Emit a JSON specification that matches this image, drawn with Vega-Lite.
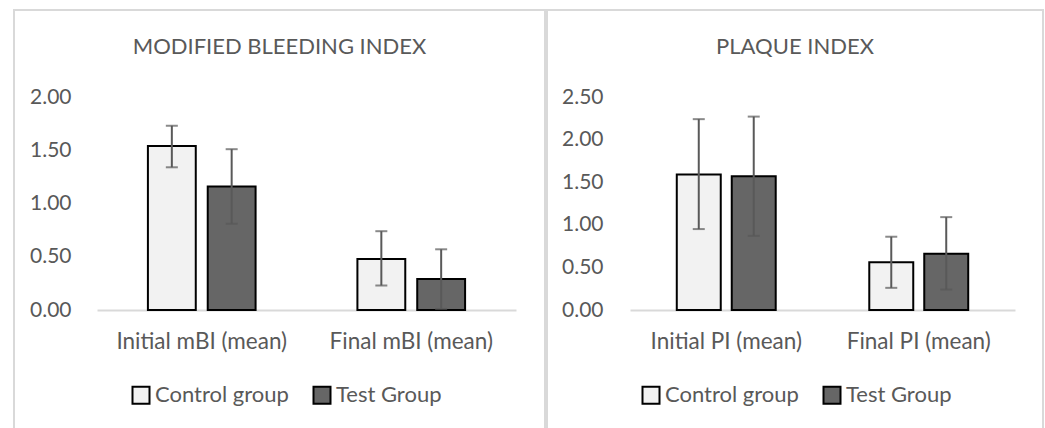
{
  "$schema": "https://vega.github.io/schema/vega-lite/v6.json",
  "padding": {"left": 13, "top": 9, "right": 0, "bottom": 0},
  "background": "white",
  "config": {
    "font": "Lato",
    "view": {"stroke": "#d9d9d9", "strokeWidth": 2},
    "concat": {"spacing": 0},
    "axis": {"labelColor": "#595959", "labelFont": "Lato", "grid": false, "ticks": false, "title": null}
  },
  "datasets": {
    "mbi": [
      {"category": "Initial mBI (mean)", "group": "Control group", "mean": 1.54, "lo": 1.34, "hi": 1.73},
      {"category": "Initial mBI (mean)", "group": "Test Group", "mean": 1.16, "lo": 0.81, "hi": 1.51},
      {"category": "Final mBI (mean)", "group": "Control group", "mean": 0.48, "lo": 0.23, "hi": 0.74},
      {"category": "Final mBI (mean)", "group": "Test Group", "mean": 0.29, "lo": 0.01, "hi": 0.57}
    ],
    "pi": [
      {"category": "Initial PI (mean)", "group": "Control group", "mean": 1.59, "lo": 0.95, "hi": 2.24},
      {"category": "Initial PI (mean)", "group": "Test Group", "mean": 1.57, "lo": 0.87, "hi": 2.27},
      {"category": "Final PI (mean)", "group": "Control group", "mean": 0.56, "lo": 0.26, "hi": 0.86},
      {"category": "Final PI (mean)", "group": "Test Group", "mean": 0.66, "lo": 0.24, "hi": 1.09}
    ]
  },
  "hconcat": [
    {
      "width": 531,
      "height": 425,
      "title": {"text": "MODIFIED BLEEDING INDEX", "frame": "group", "anchor": "middle", "offset": -66, "baseline": "alphabetic", "fontSize": 22, "fontWeight": "normal", "color": "#595959", "font": "Lato"},
      "data": {"name": "mbi"},
      "encoding": {
        "x": {"field": "category", "type": "nominal", "sort": ["Initial mBI (mean)", "Final mBI (mean)"],
          "scale": {"range": [83, 502], "paddingInner": 0.486, "paddingOuter": 0.243},
          "axis": {"title": null, "offset": -125, "domain": true, "domainColor": "#d9d9d9", "domainWidth": 2, "labelAngle": 0, "labelPadding": 20, "labelFontSize": 22.5}},
        "xOffset": {"field": "group", "type": "nominal", "sort": ["Control group", "Test Group"], "scale": {"paddingInner": 0.2}}
      },
      "layer": [
        {
          "mark": {"type": "bar", "stroke": "black", "strokeWidth": 2},
          "encoding": {
            "y": {"field": "mean", "type": "quantitative", "title": null,
              "scale": {"domain": [0, 2], "range": [300, 87], "nice": false},
              "axis": {"title": null, "offset": -83, "domain": false, "values": [0, 0.5, 1, 1.5, 2], "format": ".2f", "labelPadding": 26, "labelFontSize": 21}},
            "fill": {"field": "group", "type": "nominal",
              "scale": {"domain": ["Control group", "Test Group"], "range": ["#f2f2f2", "#666666"]},
              "legend": {"orient": "none", "legendX": 116, "legendY": 374, "direction": "horizontal", "title": null, "symbolType": "square", "symbolSize": 289, "symbolStrokeColor": "black", "symbolStrokeWidth": 2, "labelFontSize": 22, "labelColor": "#595959", "labelFont": "Lato", "labelOffset": 3, "columnPadding": 20, "padding": 0}}
          }
        },
        {
          "mark": {"type": "rule", "color": "#595959", "strokeWidth": 2},
          "encoding": {"y": {"field": "lo", "type": "quantitative", "title": null}, "y2": {"field": "hi"}}
        },
        {
          "mark": {"type": "tick", "color": "#595959", "thickness": 2, "size": 12, "orient": "horizontal"},
          "encoding": {"y": {"field": "hi", "type": "quantitative", "title": null}}
        },
        {
          "mark": {"type": "tick", "color": "#595959", "thickness": 2, "size": 12, "orient": "horizontal"},
          "encoding": {"y": {"field": "lo", "type": "quantitative", "title": null}}
        }
      ]
    },
    {
      "width": 496,
      "height": 425,
      "title": {"text": "PLAQUE INDEX", "frame": "group", "anchor": "middle", "offset": -66, "baseline": "alphabetic", "fontSize": 22, "fontWeight": "normal", "color": "#595959", "font": "Lato"},
      "data": {"name": "pi"},
      "encoding": {
        "x": {"field": "category", "type": "nominal", "sort": ["Initial PI (mean)", "Final PI (mean)"],
          "scale": {"range": [83, 468], "paddingInner": 0.486, "paddingOuter": 0.243},
          "axis": {"title": null, "offset": -125, "domain": true, "domainColor": "#d9d9d9", "domainWidth": 2, "labelAngle": 0, "labelPadding": 20, "labelFontSize": 22.5}},
        "xOffset": {"field": "group", "type": "nominal", "sort": ["Control group", "Test Group"], "scale": {"paddingInner": 0.2}}
      },
      "layer": [
        {
          "mark": {"type": "bar", "stroke": "black", "strokeWidth": 2},
          "encoding": {
            "y": {"field": "mean", "type": "quantitative", "title": null,
              "scale": {"domain": [0, 2.5], "range": [300, 87], "nice": false},
              "axis": {"title": null, "offset": -83, "domain": false, "values": [0, 0.5, 1, 1.5, 2, 2.5], "format": ".2f", "labelPadding": 27, "labelFontSize": 21}},
            "fill": {"field": "group", "type": "nominal",
              "scale": {"domain": ["Control group", "Test Group"], "range": ["#f2f2f2", "#666666"]},
              "legend": {"orient": "none", "legendX": 93, "legendY": 374, "direction": "horizontal", "title": null, "symbolType": "square", "symbolSize": 289, "symbolStrokeColor": "black", "symbolStrokeWidth": 2, "labelFontSize": 22, "labelColor": "#595959", "labelFont": "Lato", "labelOffset": 3, "columnPadding": 20, "padding": 0}}
          }
        },
        {
          "mark": {"type": "rule", "color": "#595959", "strokeWidth": 2},
          "encoding": {"y": {"field": "lo", "type": "quantitative", "title": null}, "y2": {"field": "hi"}}
        },
        {
          "mark": {"type": "tick", "color": "#595959", "thickness": 2, "size": 12, "orient": "horizontal"},
          "encoding": {"y": {"field": "hi", "type": "quantitative", "title": null}}
        },
        {
          "mark": {"type": "tick", "color": "#595959", "thickness": 2, "size": 12, "orient": "horizontal"},
          "encoding": {"y": {"field": "lo", "type": "quantitative", "title": null}}
        }
      ]
    }
  ],
  "resolve": {"scale": {"x": "independent", "y": "independent", "xOffset": "independent", "fill": "independent"}, "legend": {"fill": "independent"}}
}
